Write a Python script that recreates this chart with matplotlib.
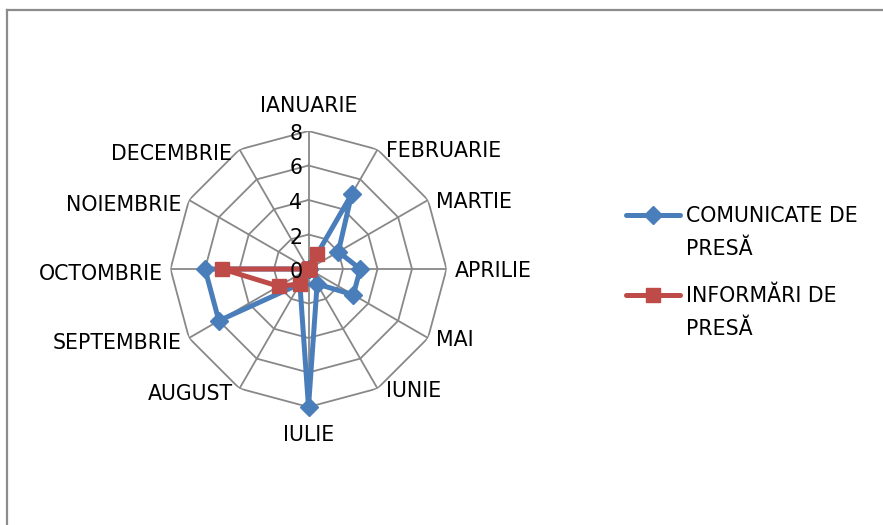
import numpy as np
import matplotlib
matplotlib.use('Agg')
import matplotlib.pyplot as plt
from matplotlib.lines import Line2D

# month names and series values
months = ['IANUARIE', 'FEBRUARIE', 'MARTIE', 'APRILIE', 'MAI', 'IUNIE',
          'IULIE', 'AUGUST', 'SEPTEMBRIE', 'OCTOMBRIE', 'NOIEMBRIE', 'DECEMBRIE']
comunicate = [0, 5, 2, 3, 3, 1, 8, 1, 6, 6, 0, 0]
informari = [0, 1, 0, 0, 0, 0, 0, 1, 2, 5, 0, 0]
rings = [0, 2, 4, 6, 8]
series_names = ['COMUNICATE DE\nPRESĂ', 'INFORMĂRI DE\nPRESĂ']

blue = '#4A7EBB'
red = '#BE4B48'
gridc = '#888888'

plt.rcParams['font.family'] = ['DejaVu Sans']
fs = 14.8

W, H = 883, 525
fig = plt.figure(figsize=(W / 100, H / 100), dpi=100)

# centre of the radar and its outer radius, in pixels
cx, cy, R = 308.5, 269, 138
ax = fig.add_axes([(cx - R) / W, 1 - (cy + R) / H, 2 * R / W, 2 * R / H], polar=True)
ax.set_theta_zero_location('N')
ax.set_theta_direction(-1)
ax.set_ylim(0, 8)
ax.grid(False)
ax.set_xticks([])
ax.set_yticks([])
ax.spines['polar'].set_visible(False)
ax.patch.set_alpha(0)

n = len(months)
theta = np.arange(n) * 2 * np.pi / n
theta_c = np.append(theta, theta[0])

# polygon grid
for r in rings[1:]:
    ax.plot(theta_c, [r] * (n + 1), color=gridc, lw=1.3, zorder=1)
for t in theta:
    ax.plot([t, t], [0, 8], color=gridc, lw=1.3, zorder=1)

# radial value labels on the left of the top spoke
for r in rings:
    px = cx - 6
    py = cy - r * R / 8 + 3
    fig.text(px / W, 1 - py / H, str(r), ha='right', va='center', fontsize=fs)

# category labels
for i, name in enumerate(months):
    t = theta[i]
    s, c = np.sin(t), np.cos(t)
    px = cx + R * s
    py = cy - R * c
    if abs(s) < 0.01:
        ha = 'center'
        py = py - 25 if c > 0 else py + 28
    elif s > 0:
        ha = 'left'
        px += 8
        py += 2
    else:
        ha = 'right'
        px -= 7
        py += 5
    fig.text(px / W, 1 - py / H, name, ha=ha, va='center', fontsize=fs)

vals_b = np.append(comunicate, comunicate[0])
vals_r = np.append(informari, informari[0])
ax.plot(theta_c, vals_b, color=blue, lw=3.6, marker='D', ms=9.5,
        markerfacecolor=blue, markeredgecolor=blue, zorder=3, clip_on=False)
ax.plot(theta_c, vals_r, color=red, lw=3.6, marker='s', ms=10,
        markerfacecolor=red, markeredgecolor=red, zorder=4, clip_on=False)

# legend drawn by hand so the key sits on the first text line
for j, (col, mk, ms) in enumerate([(blue, 'D', 9.5), (red, 's', 10)]):
    ly = 215 + j * 80
    fig.add_artist(Line2D([626 / W, 680 / W], [1 - ly / H] * 2, color=col, lw=3.6,
                          solid_capstyle='round'))
    fig.add_artist(Line2D([653 / W], [1 - ly / H], marker=mk, ms=ms, color=col))
    lines = series_names[j].split('\n')
    for k, txt in enumerate(lines):
        fig.text(686 / W, 1 - (ly + 1 + k * 33) / H, txt, ha='left', va='center', fontsize=fs)

# chart area border (top and left edges visible)
fig.add_artist(Line2D([7.5 / W, 7.5 / W], [1 - 10 / H, 0], color='#8c8c8c', lw=1.6))
fig.add_artist(Line2D([7.5 / W, 1], [1 - 10 / H, 1 - 10 / H], color='#8c8c8c', lw=1.6))

fig.savefig('out.png', dpi=100)
